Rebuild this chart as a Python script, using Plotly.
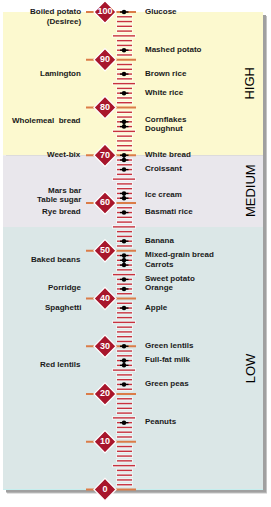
import plotly.graph_objects as go

# ---------------- data ----------------
right_foods = ["Glucose", "Mashed potato", "Brown rice", "White rice", "Cornflakes", "Doughnut",
               "White bread", "Croissant", "Ice cream", "Basmati rice", "Banana",
               "Mixed-grain bread", "Carrots", "Sweet potato", "Orange", "Apple",
               "Green lentils", "Full-fat milk", "Green peas", "Peanuts"]
right_gi = [100, 92, 87, 83, 77, 76, 70, 67, 61, 58, 52, 49, 47, 44, 42, 38, 30, 27, 22, 14]

left_foods = ["Boiled potato<br>(Desiree)", "Lamington", "Wholemeal  bread", "Weet-bix",
              "Mars bar", "Table sugar", "Rye bread", "Baked beans", "Porridge",
              "Spaghetti", "Red lentils"]
left_gi = [100, 87, 77, 69, 62, 61, 58, 48, 42, 38, 26]

scale_labels = [0, 10, 20, 30, 40, 50, 60, 70, 80, 90, 100]

bands = ["HIGH", "MEDIUM", "LOW"]
band_low = [70, 55, 0]
band_high = [100, 70, 55]
band_label_pos = [85, 62.5, 25.4]

# label nudges (GI units) for crowded labels
label_nudge = {"Weet-bix": 1.0, "Mars bar": 0.5, "Table sugar": -0.5,
               "Ice cream": 0.5, "Cornflakes": 0.3, "Doughnut": -0.6,
               "Full-fat milk": 0.1}

# ---------------- geometry / style ----------------
W, H = 271, 507
TOP_PX = 12.0
PPU = 4.775  # pixels per GI unit
y_top = 100 + TOP_PX / PPU
y_bot = 100 - (H - TOP_PX) / PPU

band_colors = ["#FCF9CF", "#E9E7EC", "#DBE7E7"]
PANEL_X0, PANEL_X1 = 3, 263
TICK_RED = "#C8323F"
TEN_ORANGE = "#DB7C48"
DIAMOND = "#A8162C"
FONT = "Liberation Sans, Arial, sans-serif"

X_DIAMOND = 105
X_DOT = 124
X_LEFT_LABEL = 83
X_RIGHT_LABEL = 143

fig = go.Figure()
shapes = []

px = 1.0 / PPU
# drop shadow
shapes.append(dict(type="rect", xref="x", yref="y", x0=PANEL_X0 + 4, x1=PANEL_X1 + 4,
                   y0=0 - 4 * px, y1=100 - 4 * px, fillcolor="#C4C4C4", line_width=0,
                   layer="below"))
shapes.append(dict(type="rect", xref="x", yref="y", x0=PANEL_X0 + 3, x1=PANEL_X1 + 3,
                   y0=0 - 3 * px, y1=100 - 3 * px, fillcolor="#A0A0A0", line_width=0,
                   layer="below"))
# bands
for lo, hi, c in zip(band_low, band_high, band_colors):
    shapes.append(dict(type="rect", xref="x", yref="y", x0=PANEL_X0, x1=PANEL_X1,
                       y0=lo, y1=hi, fillcolor=c, line_width=0, layer="below"))
# light border at bottom
shapes.append(dict(type="line", xref="x", yref="y", x0=PANEL_X0, x1=PANEL_X1,
                   y0=0, y1=0, line=dict(color="#C6EEEE", width=1), layer="below"))

# ---------------- ticks ----------------
hx, hy = [], []
sx, sy = [], []
for v in range(0, 101):
    if v % 10 == 0:
        continue
    if v % 5 == 0:
        x0, x1 = 113, 135
    else:
        x0, x1 = 117, 132
    sx += [x0, x1, None]
    sy += [v, v, None]
    hx += [x0 - 1, x1 + 1, None]
    hy += [v, v, None]
fig.add_trace(go.Scatter(x=hx, y=hy, mode="lines", line=dict(color="rgba(255,255,255,0.5)", width=4),
                         hoverinfo="skip", showlegend=False))
fig.add_trace(go.Scatter(x=sx, y=sy, mode="lines", line=dict(color=TICK_RED, width=1.4),
                         hoverinfo="skip", showlegend=False))

# tens lines
tx, ty = [], []
for v in scale_labels:
    tx += [86, 136, None]
    ty += [v, v, None]
fig.add_trace(go.Scatter(x=tx, y=ty, mode="lines", line=dict(color=TEN_ORANGE, width=1.8),
                         hoverinfo="skip", showlegend=False))

# ---------------- dots ----------------
dot_vals = sorted(set(right_gi) | set(left_gi))
bx, by = [], []
for v in dot_vals:
    bx += [120, 128.5, None]
    by += [v, v, None]
for a, b in zip(dot_vals[:-1], dot_vals[1:]):
    if b - a == 1:
        bx += [X_DOT, X_DOT, None]
        by += [a, b, None]
fig.add_trace(go.Scatter(x=bx, y=by, mode="lines", line=dict(color="black", width=1.3),
                         hoverinfo="skip", showlegend=False))
fig.add_trace(go.Scatter(x=[X_DOT] * len(dot_vals), y=dot_vals, mode="markers",
                         marker=dict(color="black", size=4.5, line_width=0),
                         hoverinfo="skip", showlegend=False))

# ---------------- diamonds ----------------
fig.add_trace(go.Scatter(x=[X_DIAMOND] * len(scale_labels), y=scale_labels,
                         mode="markers+text", text=[str(v) for v in scale_labels],
                         textposition="middle center",
                         textfont=dict(family=FONT, size=9, color="white", weight="bold"),
                         marker=dict(symbol="diamond", size=17, color=DIAMOND,
                                     line=dict(color="white", width=1.2)),
                         hoverinfo="skip", showlegend=False))

# ---------------- labels ----------------
LABEL_FONT = dict(family=FONT, size=8, color="#1a1a1a", weight="bold")
annotations = []
for name, v in zip(right_foods, right_gi):
    annotations.append(dict(x=X_RIGHT_LABEL, y=v + label_nudge.get(name, 0), xref="x", yref="y",
                            text=name, showarrow=False, xanchor="left", yanchor="middle",
                            yshift=1, font=LABEL_FONT))
for name, v in zip(left_foods, left_gi):
    multi = "<br>" in name
    annotations.append(dict(x=X_LEFT_LABEL, y=v + label_nudge.get(name, 0), xref="x", yref="y",
                            text=name, showarrow=False, xanchor="right", align="right",
                            yanchor="middle", yshift=(-4.5 if multi else 1),
                            font=LABEL_FONT))
for name, v in zip(bands, band_label_pos):
    annotations.append(dict(x=250, y=v, xref="x", yref="y", text=name, showarrow=False,
                            textangle=-90, xanchor="center", yanchor="middle",
                            font=dict(family=FONT, size=13, color="black")))

fig.update_layout(
    width=W, height=H, margin=dict(l=0, r=0, t=0, b=0),
    paper_bgcolor="white", plot_bgcolor="white",
    xaxis=dict(range=[0, W], visible=False, fixedrange=True),
    yaxis=dict(range=[y_bot, y_top], visible=False, fixedrange=True),
    shapes=shapes, annotations=annotations, showlegend=False,
)
fig.write_html("out.html")
